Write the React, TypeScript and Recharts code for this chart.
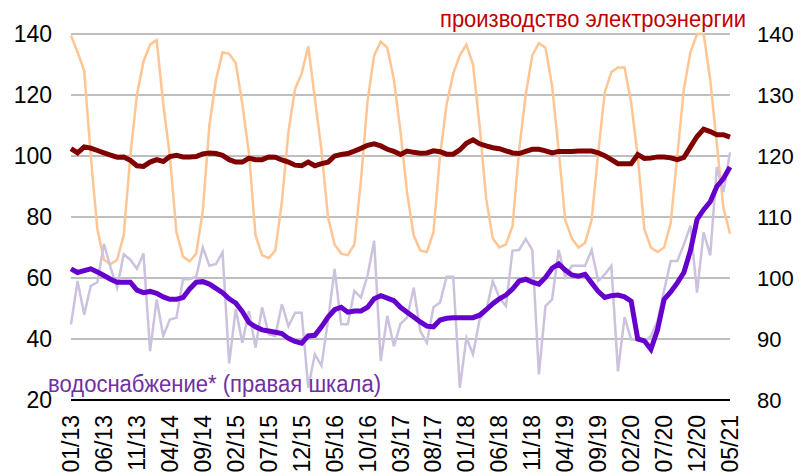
import { LineChart, Line, XAxis, YAxis, CartesianGrid } from 'recharts';

// months 01/13 .. 05/21
const years = [13, 14, 15, 16, 17, 18, 19, 20, 21];
const months = years.flatMap(y =>
  Array.from({ length: 12 }, (_, m) => `${String(m + 1).padStart(2, '0')}/${y}`),
).slice(0, 101);

// электроэнергия, без сезонной корректировки (левая шкала)
const elecRaw = [
  139.5, 134, 128, 100, 76, 66, 64.5, 66, 74, 100,
  120, 131, 136.5, 138, 117, 100, 75, 67, 65.5, 68,
  82, 110, 125, 134, 133.5, 130.5, 117, 101, 74, 67.5,
  66.5, 69, 85, 108, 122, 127, 136, 119, 102, 80,
  71, 68, 67.5, 71, 92, 118, 133, 137.5, 135.5, 125,
  108, 88, 74, 69, 68.5, 75, 100, 117, 127, 133,
  136.5, 130, 110, 86, 73, 70, 71, 77, 102, 120,
  133, 137, 135.5, 123, 102, 79, 73, 70, 71.5, 79,
  101, 121, 127.5, 129, 129, 117.5, 100, 76, 70, 68.5,
  70, 78, 100, 122, 134, 140, 140, 125, 104, 83, 74.5,
];

// электроэнергия, сезонно скорр. (левая шкала)
const elecSa = [
  102.4, 101, 103, 102.6, 101.8, 101, 100.3, 99.6, 99.7, 98.6,
  96.8, 96.6, 98, 98.8, 98.2, 99.8, 100.2, 99.7, 99.7, 99.8,
  100.7, 101, 100.8, 100.2, 98.8, 98, 98, 99.3, 98.8, 98.8,
  99.7, 99.6, 98.7, 98, 97, 96.8, 98, 96.8, 97.5, 98,
  100, 100.5, 100.8, 101.6, 102.5, 103.5, 104, 103.3, 102.2, 101.5,
  100.5, 101.6, 101.2, 100.9, 101, 101.7, 101.4, 100.6, 100.6, 102,
  104.2, 105.3, 104, 103.3, 102.7, 102.4, 101.7, 101, 100.8, 101.5,
  102.2, 102.2, 101.7, 101, 101.5, 101.5, 101.5, 101.6, 101.6, 101.6,
  101, 100.1, 98.8, 97.5, 97.5, 97.5, 100.5, 99.2, 99.3, 99.7,
  99.7, 99.4, 98.8, 99.5, 103, 106.4, 108.8, 108, 107, 107, 106.2,
];

// водоснабжение, без корректировки (правая шкала)
const waterRaw = [
  92.4, 99.5, 94, 98.7, 99.3, 105.6, 101.7, 98.4, 103.9, 103,
  101.5, 104, 88, 96.5, 90.5, 93.2, 93.5, 99.8, 99.8, 100.2,
  105, 102, 102.3, 104.2, 86, 94.9, 89.4, 94.6, 88.6, 95.2,
  90.8, 90.5, 95.7, 92.1, 94.3, 94.3, 82, 87.5, 85.6, 93,
  101.5, 92.4, 92.4, 97.9, 96.8, 100.4, 106.1, 86.4, 93.8, 88.8,
  92.5, 93.5, 98.4, 91.3, 89.4, 95.2, 96, 100.2, 100.2, 82,
  90.2, 87.5, 93.2, 94.6, 99.5, 96.8, 95.4, 104.5, 104.6, 106.4,
  104.6, 84.2, 95.4, 96.5, 104.6, 100.1, 102, 102, 102, 104.6,
  99.5, 100.6, 102, 84.7, 93.6, 89.9, 89.9, 89.5, 90.5, 93,
  97.9, 102.8, 102.8, 105.5, 108.6, 97.6, 107.5, 103.7, 118.2, 114.1, 120.6,
];

// водоснабжение, сезонно скорр. (правая шкала)
const waterSa = [
  101.5, 100.9, 101.2, 101.5, 101, 100.4, 99.8, 99.3, 99.3, 99.3,
  98, 97.6, 97.8, 97.5, 96.9, 96.5, 96.5, 96.8, 98.2, 99.3,
  99.4, 99, 98.3, 97.6, 96.6, 95.9, 94.5, 92.7, 92, 91.5,
  91.3, 91.1, 90.9, 90.1, 89.6, 89.3, 90.5, 90.6, 92, 93.6,
  94.8, 95.2, 94.4, 94.6, 94.6, 95.2, 96.6, 97.1, 96.7, 96.3,
  95.2, 94.4, 93.6, 92.8, 92.1, 92, 93.1, 93.4, 93.5, 93.5,
  93.5, 93.5, 93.9, 94.8, 95.8, 96.6, 97.2, 98.2, 99.5, 99.8,
  99.3, 99, 100.1, 101.6, 102.3, 101.3, 100.5, 100.3, 100.6, 99.2,
  97.8, 96.8, 97.1, 97.2, 96.9, 96.2, 90, 89.7, 88.3, 91.5,
  96.5, 97.7, 99.2, 100.9, 104.5, 109.6, 111.2, 112.5, 115, 116.3, 118.2,
];

const leftTicks = [20, 40, 60, 80, 100, 120, 140];
const rightTicks = [80, 90, 100, 110, 120, 130, 140];

const data = months.map((m, i) => ({
  month: m,
  elecRaw: elecRaw[i],
  elecSa: elecSa[i],
  waterRaw: waterRaw[i],
  waterSa: waterSa[i],
}));

const FONT = "'Liberation Sans', Arial, sans-serif";

function MonthTick({ x, y, payload }: any) {
  return (
    <text
      transform={`translate(${x},${y + 15}) rotate(-90)`}
      textAnchor="end"
      dominantBaseline="central"
      fontSize={23}
      fontFamily={FONT}
      fill="#000"
    >
      {payload.value}
    </text>
  );
}

export default function App() {
  return (
    <div style={{ position: 'absolute', left: 0, top: 0, width: 803, height: 476, background: '#fff' }}>
      <LineChart width={803} height={476} data={data} margin={{ top: 34, right: 0, left: 0, bottom: 0 }}>
        <CartesianGrid vertical={false} stroke="#BFBFBF" strokeWidth={2} yAxisId="left" />
        <XAxis
          dataKey="month"
          interval={4}
          tick={<MonthTick />}
          tickLine={false}
          tickSize={0}
          tickMargin={0}
          axisLine={{ stroke: '#000', strokeWidth: 2 }}
          height={76}
        />
        <YAxis
          yAxisId="left"
          domain={[20, 140]}
          ticks={leftTicks}
          width={71}
          axisLine={false}
          tickLine={false}
          tickSize={0}
          tickMargin={19}
          tick={{ fontSize: 23, fill: '#000', fontFamily: FONT }}
        />
        <YAxis
          yAxisId="right"
          orientation="right"
          domain={[80, 140]}
          ticks={rightTicks}
          width={73}
          axisLine={false}
          tickLine={false}
          tickSize={0}
          tickMargin={27}
          tick={{ fontSize: 22, fill: '#000', fontFamily: FONT }}
        />
        <Line yAxisId="left" type="linear" dataKey="elecRaw" stroke="#FFC594" strokeWidth={2.5} dot={false} isAnimationActive={false} />
        <Line yAxisId="right" type="linear" dataKey="waterRaw" stroke="#CCC2DE" strokeWidth={2.5} dot={false} isAnimationActive={false} />
        <Line yAxisId="left" type="linear" dataKey="elecSa" stroke="#800000" strokeWidth={5} dot={false} isAnimationActive={false} />
        <Line yAxisId="right" type="linear" dataKey="waterSa" stroke="#6600CC" strokeWidth={5} dot={false} isAnimationActive={false} />
      </LineChart>
      <svg width={803} height={476} style={{ position: 'absolute', left: 0, top: 0, pointerEvents: 'none' }}>
        <text
          transform="translate(440,27) scale(1,1.15)"
          fontSize={21.5}
          fontFamily={FONT}
          fill="#C00000"
          textLength={306}
          lengthAdjust="spacingAndGlyphs"
        >
          производство электроэнергии
        </text>
        <text
          transform="translate(48,392) scale(1,1.15)"
          fontSize={21.5}
          fontFamily={FONT}
          fill="#7030A0"
          textLength={333}
          lengthAdjust="spacingAndGlyphs"
        >
          водоснабжение* (правая шкала)
        </text>
      </svg>
    </div>
  );
}
